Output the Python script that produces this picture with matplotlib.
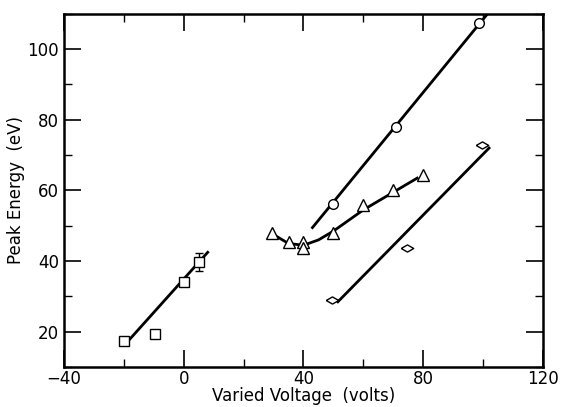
import matplotlib.pyplot as plt
from matplotlib.ticker import MultipleLocator

# squares
sq_x = [-20, -9.5, 0, 5]
sq_y = [17.5, 19.5, 34, 39.7]
sq_err = [0, 0, 0, 2.5]
sq_line_x = [-19, 8]
sq_line_y = [17, 42.5]

# triangles
tri_x = [29.5, 35, 40, 40, 50, 60, 70, 80]
tri_y = [48, 45.3, 45.3, 43.8, 48, 56, 60, 64.5]
tri_line_x = [30, 35, 40, 45, 50, 60, 70, 78]
tri_line_y = [47.5, 45, 44.5, 46, 48.5, 54.5, 59.5, 63.5]

# circles
circ_x = [50, 71, 98.5]
circ_y = [56.3, 78, 107.3]
circ_line_x = [43, 101.5]
circ_line_y = [49.5, 110]

# diamonds
dia_x = [49.5, 74.5, 99.5]
dia_y = [29, 43.7, 73]
dia_line_x = [51.5, 102]
dia_line_y = [28.5, 72]

plt.rcParams['font.family'] = 'DejaVu Sans'
fig = plt.figure(figsize=(5.62, 4.07), dpi=100)
ax = fig.add_axes([0.114, 0.098, 0.852, 0.868])

ax.plot(sq_line_x, sq_line_y, color='black', lw=2)
ax.plot(tri_line_x, tri_line_y, color='black', lw=2)
ax.plot(circ_line_x, circ_line_y, color='black', lw=2)
ax.plot(dia_line_x, dia_line_y, color='black', lw=2)

# wide diamond marker like the original
wide_diamond = [(-1.4, 0), (0, 0.8), (1.4, 0), (0, -0.8), (-1.4, 0)]

ax.errorbar(sq_x, sq_y, yerr=sq_err, fmt='s', mfc='white', mec='black',
            ms=7, ecolor='black', capsize=3, elinewidth=1, zorder=3)
ax.plot(tri_x, tri_y, '^', mfc='white', mec='black', ms=8, ls='none', zorder=3)
ax.plot(circ_x, circ_y, 'o', mfc='white', mec='black', ms=7, ls='none', zorder=3)
ax.plot(dia_x, dia_y, marker=wide_diamond, mfc='white', mec='black', ms=9,
        ls='none', zorder=3)

ax.set_xlim(-40, 120)
ax.set_ylim(10, 110)
ax.xaxis.set_major_locator(MultipleLocator(40))
ax.xaxis.set_minor_locator(MultipleLocator(20))
ax.yaxis.set_major_locator(MultipleLocator(20))
ax.yaxis.set_minor_locator(MultipleLocator(10))
ax.tick_params(which='both', direction='in', top=True, right=True, labelsize=12)
ax.tick_params(which='major', length=12, width=1.2)
ax.tick_params(which='minor', length=6, width=1)
ax.tick_params(axis='x', pad=2)
for s in ax.spines.values():
    s.set_linewidth(1.8)

ax.set_xlabel('Varied Voltage  (volts)', fontsize=12, labelpad=-1)
ax.set_ylabel('Peak Energy  (eV)', fontsize=12, labelpad=2)

fig.savefig('out.png', dpi=100)
